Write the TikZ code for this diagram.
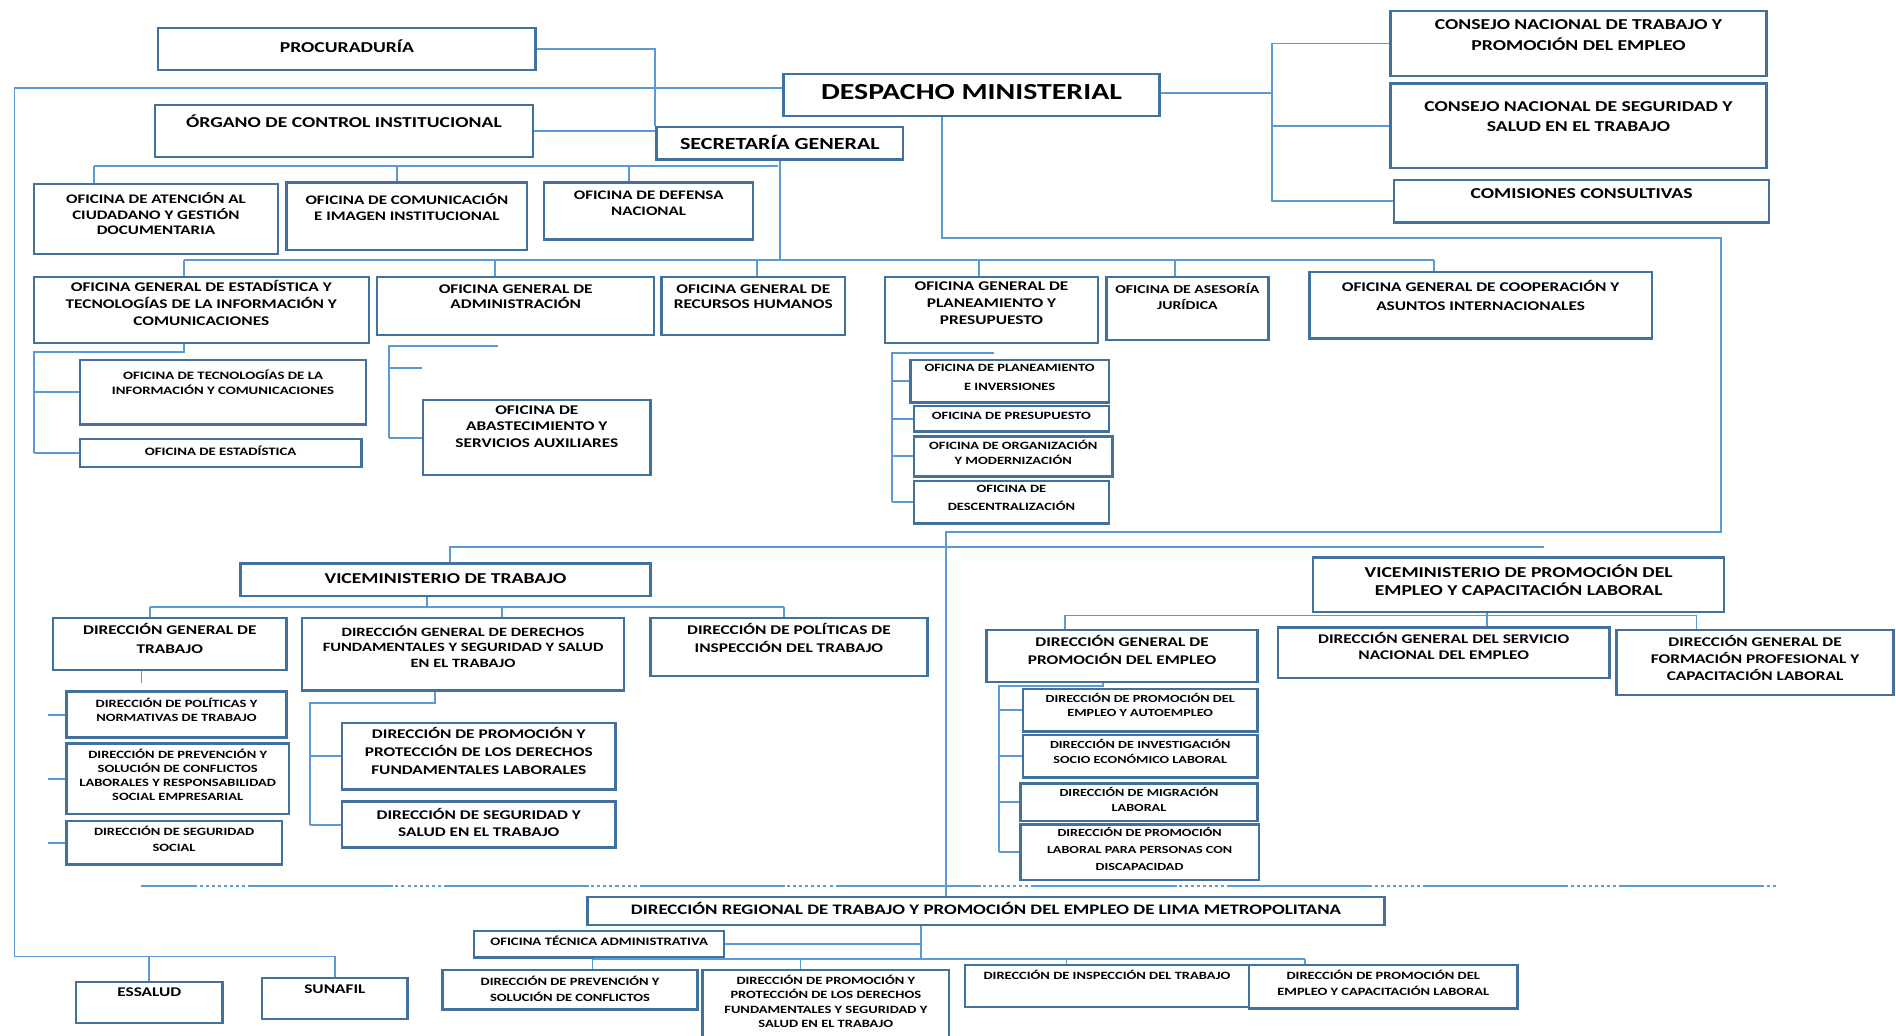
\documentclass[tikz,border=0pt]{standalone}
\usepackage{fontspec}
\setmainfont{Carlito}[FakeStretch=1.3]
\definecolor{boxc}{HTML}{41719C}
\definecolor{linec}{HTML}{5B9BD5}
\tikzset{
  box/.style={draw=boxc, line width=1.9pt, inner sep=0pt, fill=white},
  txt/.style={align=center, inner sep=0pt, text=black},
  conn/.style={draw=linec, line width=1.6pt},
  dashline/.style={conn, dash pattern=on 120pt off 2pt on 2.5pt off 2.5pt on 2.5pt off 2.5pt on 2.5pt off 2.5pt on 2.5pt off 2.5pt on 2.5pt off 2.5pt on 2.5pt off 2.5pt on 2.5pt off 2.5pt on 2.5pt off 2.5pt, dash phase=74pt},
}
% name, x1, y1, x2, y2, text offset, size, skip, text
\newcommand\bx[9]{%
  \node[box, anchor=north west, minimum width=#4pt-#2pt, minimum height=#5pt-#3pt] (#1) at (#2,#3) {};
  \node[txt, anchor=north, font={\fontsize{#7}{#8}\selectfont\bfseries}] (#1t) at ([yshift=-#6pt]#1.north) {#9};}
\newcommand\drop[2]{\draw[conn] (#1) -- (#1 |- #2.north);}
\newcommand\stub[2]{\draw[conn] (#1 |- #2.west) -- (#2.west);}
\begin{document}
\begin{tikzpicture}[x=1pt,y=-1pt]
\useasboundingbox (0,0) rectangle (1568,856);
\fill[white] (0,0) rectangle (1568,856);
\clip (0,0) rectangle (1568,856);

% ---------- top level
\bx{procu}{130}{22}{442}{57}{11}{12.5}{15}{PROCURADURÍA}
\bx{organo}{127}{86}{440}{129}{9}{12.5}{15}{ÓRGANO DE CONTROL INSTITUCIONAL}
\bx{despacho}{647}{60}{958}{95}{10}{19}{22}{DESPACHO MINISTERIAL}
\bx{secre}{542}{104}{746}{131}{8}{14}{16}{SECRETARÍA GENERAL}
\bx{cnt}{1149}{8}{1460}{62}{8}{12.5}{17}{CONSEJO NACIONAL DE TRABAJO Y\\PROMOCIÓN DEL EMPLEO}
\bx{cnss}{1149}{68}{1460}{138}{16}{12.5}{16}{CONSEJO NACIONAL DE SEGURIDAD Y\\SALUD EN EL TRABAJO}
\bx{comis}{1152}{148}{1462}{183}{8}{12.5}{15}{COMISIONES CONSULTIVAS}

% ---------- Secretaria offices
\bx{atc}{27}{151}{229}{209}{8}{10.8}{13}{OFICINA DE ATENCIÓN AL\\CIUDADANO Y GESTIÓN\\DOCUMENTARIA}
\bx{comm}{236}{150}{435}{206}{10}{10.8}{13}{OFICINA DE COMUNICACIÓN\\E IMAGEN INSTITUCIONAL}
\bx{defn}{449}{150}{622}{197}{8}{10.8}{13}{OFICINA DE DEFENSA\\NACIONAL}

% ---------- row 3
\bx{oge}{27}{228}{304}{283}{4}{11}{14}{OFICINA GENERAL DE ESTADÍSTICA Y\\TECNOLOGÍAS DE LA INFORMACIÓN Y\\COMUNICACIONES}
\bx{oga}{311}{228}{540}{276}{7}{11}{13}{OFICINA GENERAL DE\\ADMINISTRACIÓN}
\bx{ogrh}{546}{228}{698}{276}{7}{11}{13}{OFICINA GENERAL DE\\RECURSOS HUMANOS}
\bx{ogpp}{731}{228}{907}{283}{5}{11}{14}{OFICINA GENERAL DE\\PLANEAMIENTO Y\\PRESUPUESTO}
\bx{oaj}{914}{228}{1048}{280}{6}{10}{13}{OFICINA DE ASESORÍA\\JURÍDICA}
\bx{ogci}{1082}{224}{1365}{279}{8}{11}{15}{OFICINA GENERAL DE COOPERACIÓN Y\\ASUNTOS INTERNACIONALES}

% ---------- sub offices
\bx{otic}{65}{297}{302}{350}{9}{9.4}{12}{OFICINA DE TECNOLOGÍAS DE LA\\INFORMACIÓN Y COMUNICACIONES}
\bx{oest}{65}{362}{298}{385}{7}{9.4}{12}{OFICINA DE ESTADÍSTICA}
\bx{oabs}{349}{330}{537}{392}{5}{11}{14}{OFICINA DE\\ABASTECIMIENTO Y\\SERVICIOS AUXILIARES}
\bx{opi}{752}{297}{916}{332}{4}{9.2}{16}{OFICINA DE PLANEAMIENTO\\E INVERSIONES}
\bx{opre}{755}{335}{916}{356}{6}{9.2}{12}{OFICINA DE PRESUPUESTO}
\bx{oom}{755}{360}{919}{393}{4}{9.2}{12}{OFICINA DE ORGANIZACIÓN\\Y MODERNIZACIÓN}
\bx{odes}{755}{397}{916}{432}{4}{9.2}{15}{OFICINA DE\\DESCENTRALIZACIÓN}

% ---------- Viceministerio de Trabajo
\bx{vmt}{198}{465}{537}{492}{9}{12.5}{15}{VICEMINISTERIO DE TRABAJO}
\bx{dgt}{43}{510}{236}{553}{5}{11}{16}{DIRECCIÓN GENERAL DE\\TRABAJO}
\bx{dgdf}{249}{510}{515}{570}{7}{10.5}{13}{DIRECCIÓN GENERAL DE DERECHOS\\FUNDAMENTALES Y SEGURIDAD Y SALUD\\EN EL TRABAJO}
\bx{dpit}{537}{510}{766}{558}{5}{11}{15}{DIRECCIÓN DE POLÍTICAS DE\\INSPECCIÓN DEL TRABAJO}
\bx{dpnt}{54}{571}{236}{609}{6}{9.2}{12}{DIRECCIÓN DE POLÍTICAS Y\\NORMATIVAS DE TRABAJO}
\bx{dpsc}{54}{614}{238}{672}{5}{9.2}{11.7}{DIRECCIÓN DE PREVENCIÓN Y\\SOLUCIÓN DE CONFLICTOS\\LABORALES Y RESPONSABILIDAD\\SOCIAL EMPRESARIAL}
\bx{dss}{54}{678}{232}{714}{5}{9.2}{13}{DIRECCIÓN DE SEGURIDAD\\SOCIAL}
\bx{dppdf}{282}{597}{508}{652}{4}{11}{15}{DIRECCIÓN DE PROMOCIÓN Y\\PROTECCIÓN DE LOS DERECHOS\\FUNDAMENTALES LABORALES}
\bx{dsst}{282}{662}{508}{700}{6}{11}{14}{DIRECCIÓN DE SEGURIDAD Y\\SALUD EN EL TRABAJO}

% ---------- Viceministerio de Promocion del Empleo
\bx{vmp}{1085}{460}{1425}{505}{7}{12.5}{15}{VICEMINISTERIO DE PROMOCIÓN DEL\\EMPLEO Y CAPACITACIÓN LABORAL}
\bx{dgpe}{815}{520}{1039}{563}{5}{11}{15}{DIRECCIÓN GENERAL DE\\PROMOCIÓN DEL EMPLEO}
\bx{dgsne}{1056}{518}{1330}{560}{5}{11}{13}{DIRECCIÓN GENERAL DEL SERVICIO\\NACIONAL DEL EMPLEO}
\bx{dgfp}{1336}{520}{1565}{574}{5}{11}{14}{DIRECCIÓN GENERAL DE\\FORMACIÓN PROFESIONAL Y\\CAPACITACIÓN LABORAL}
\bx{dpea}{845}{569}{1039}{604}{4}{9}{12}{DIRECCIÓN DE PROMOCIÓN DEL\\EMPLEO Y AUTOEMPLEO}
\bx{disel}{845}{607}{1039}{642}{4}{9}{13}{DIRECCIÓN DE INVESTIGACIÓN\\SOCIO ECONÓMICO LABORAL}
\bx{dml}{843}{647}{1039}{678}{4}{9}{12}{DIRECCIÓN DE MIGRACIÓN\\LABORAL}
\bx{dplpd}{843}{681}{1040}{727}{3}{9}{14}{DIRECCIÓN DE PROMOCIÓN\\LABORAL PARA PERSONAS CON\\DISCAPACIDAD}

% ---------- Lima Metropolitana
\bx{drt}{485}{741}{1144}{764}{5}{12}{14}{DIRECCIÓN REGIONAL DE TRABAJO Y PROMOCIÓN DEL EMPLEO DE LIMA METROPOLITANA}
\bx{ota}{391}{769}{598}{791}{5}{9.4}{12}{OFICINA TÉCNICA ADMINISTRATIVA}
\bx{dpsc2}{365}{801}{576}{834}{6}{9.2}{13}{DIRECCIÓN DE PREVENCIÓN Y\\SOLUCIÓN DE CONFLICTOS}
\bx{dppd2}{580}{801}{784}{860}{5}{9.2}{12}{DIRECCIÓN DE PROMOCIÓN Y\\PROTECCIÓN DE LOS DERECHOS\\FUNDAMENTALES Y SEGURIDAD Y\\SALUD EN EL TRABAJO}
\bx{dit}{797}{797}{1032}{832}{5}{9.2}{12}{DIRECCIÓN DE INSPECCIÓN DEL TRABAJO}
\bx{dpecl}{1032}{797}{1254}{833}{5}{9.2}{13}{DIRECCIÓN DE PROMOCIÓN DEL\\EMPLEO Y CAPACITACIÓN LABORAL}

% ---------- attached bodies
\bx{essalud}{62}{811}{183}{845}{6}{11}{13}{ESSALUD}
\bx{sunafil}{216}{808}{336}{842}{6}{11}{13}{SUNAFIL}

% ================= connectors
% Procuraduria / Organo -> Secretaria
\draw[conn] (procu.east) -| (secre.north west);
\draw[conn] (organo.east) -- (organo.east -| secre.west);

% Despacho left -> attached bodies
\coordinate (dl) at (12,73);
\coordinate (cL) at (12,791);
\draw[conn] (despacho.west |- dl) -- (dl) -- (cL) -| (sunafil.north);
\draw[conn] (essalud.north) -- (essalud.north |- cL);

% Despacho right -> consejos
\coordinate (dR) at (1052,77);
\draw[conn] (despacho.east |- dR) -- (dR);
\draw[conn] (dR) |- (cnt.west);
\draw[conn] (dR) |- (comis.west);
\draw[conn] (dR) |- (cnss.west);

% Despacho bottom -> viceministerios / Lima
\coordinate (dB) at (779,197);
\coordinate (rC) at (1423,197);
\coordinate (rD) at (1423,440);
\coordinate (m1) at (782,440);
\draw[conn] (despacho.south -| dB) -- (dB) -- (rC) -- (rD) -- (m1) -- (m1 |- drt.north);
\coordinate (v1) at (372,452);
\coordinate (v2) at (1277,452);
\draw[conn] (v2) -- (v1) -- (v1 |- vmt.north);

% Secretaria -> row 2
\coordinate (s0) at (643,137);
\coordinate (jA) at (78,137);
\coordinate (jB) at (328,137);
\coordinate (jC) at (520,137);
\draw[conn] (s0) -- (jA);
\drop{jA}{atc}
\drop{jB}{comm}
\drop{jC}{defn}

% Secretaria -> row 3
\coordinate (r1) at (152,215);
\coordinate (r2) at (409,215);
\coordinate (r3) at (626,215);
\coordinate (r4) at (810,215);
\coordinate (r5) at (972,215);
\coordinate (r6) at (1186,215);
\draw[conn] (secre.south) -- (secre.south |- r1);
\draw[conn] (r1) -- (r6);
\drop{r1}{oge}
\drop{r2}{oga}
\drop{r3}{ogrh}
\drop{r4}{ogpp}
\drop{r5}{oaj}
\drop{r6}{ogci}

% OGETIC subs
\coordinate (e0) at (152,291);
\coordinate (e1) at (28,291);
\draw[conn] (oge.south -| e0) -- (e0) -- (e1) -- (e1 |- oest.west);
\stub{e1}{otic}
\stub{e1}{oest}

% OGA subs
\coordinate (a0) at (412,286);
\coordinate (a1) at (322,286);
\coordinate (a2) at (349,304);
\draw[conn] (a0) -- (a1) -- (a1 |- oabs.west);
\draw[conn] (a1 |- a2) -- (a2);
\stub{a1}{oabs}

% OGPP subs
\coordinate (p0) at (822,292);
\coordinate (p1) at (738,292);
\draw[conn] (p0) -- (p1) -- (p1 |- odes.west);
\stub{p1}{opi}
\stub{p1}{opre}
\stub{p1}{oom}
\stub{p1}{odes}

% Viceministerio de Trabajo
\coordinate (t0) at (353,502);
\coordinate (t1) at (124,502);
\coordinate (t2) at (648,502);
\coordinate (t3) at (415,502);
\draw[conn] (vmt.south -| t0) -- (t0);
\draw[conn] (t1) -- (t2);
\drop{t1}{dgt}
\drop{t3}{dgdf}
\drop{t2}{dpit}
\coordinate (g0) at (117,565);
\draw[conn] (dgt.south -| g0) -- (g0);
\coordinate (g1) at (40,600);
\stub{g1}{dpnt}
\stub{g1}{dpsc}
\stub{g1}{dss}
\coordinate (f0) at (360,581);
\coordinate (f1) at (256,581);
\draw[conn] (dgdf.south -| f0) -- (f0) -- (f1) -- (f1 |- dsst.west);
\stub{f1}{dppdf}
\stub{f1}{dsst}

% Viceministerio de Promocion
\coordinate (q0) at (1230,509);
\coordinate (q1) at (881,509);
\coordinate (q2) at (1403,509);
\draw[conn] (vmp.south -| q0) -- (q0);
\draw[conn] (q1) -- (q2);
\drop{q1}{dgpe}
\drop{q0}{dgsne}
\drop{q2}{dgfp}
\coordinate (h0) at (912,567);
\coordinate (h1) at (826,567);
\draw[conn] (dgpe.south -| h0) -- (h0) -- (h1) -- (h1 |- dplpd.west);
\stub{h1}{dpea}
\stub{h1}{disel}
\stub{h1}{dml}
\stub{h1}{dplpd}

% separator
\coordinate (x1) at (117,733);
\coordinate (x2) at (1470,733);
\draw[dashline] (x1) -- (x2);

% Lima Metropolitana
\coordinate (k0) at (762,793);
\coordinate (k1) at (490,793);
\coordinate (k2) at (1079,793);
\coordinate (k3) at (662,793);
\coordinate (k4) at (882,793);
\draw[conn] (drt.south -| k0) -- (k0);
\draw[conn] (ota.east) -- (ota.east -| k0);
\draw[conn] (k1) -- (k2);
\drop{k1}{dpsc2}
\drop{k3}{dppd2}
\drop{k4}{dit}
\drop{k2}{dpecl}
\end{tikzpicture}
\end{document}
